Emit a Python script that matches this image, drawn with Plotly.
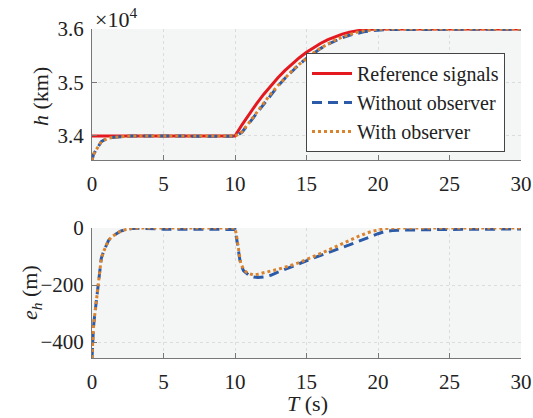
import plotly.graph_objects as go

# ---------------- data ----------------
REF_T = [0, 10, 10.5, 11, 11.5, 12, 12.5, 13, 13.5, 14, 14.5, 15, 15.5, 16, 16.5,
         17, 17.5, 18, 18.5, 19, 19.5, 20, 30]
REF_H = [34000, 34000, 34213, 34414, 34601, 34776, 34938, 35087, 35225, 35350, 35463,
         35565, 35655, 35734, 35801, 35858, 35905, 35942, 35969, 35987, 35997, 36000, 36000]

H_T = [0, 0.05, 0.1, 0.15, 0.25, 0.35, 0.45, 0.55, 0.65, 0.8, 0.95, 1.15, 1.4, 1.7,
       2.0, 2.4, 2.8, 3.5, 4, 10, 10.25, 10.5, 11, 11.5, 12, 12.5, 13, 13.5, 14, 14.5,
       15, 15.5, 16, 16.5, 17, 17.5, 18, 18.5, 19, 19.5, 20, 20.5, 21, 22, 25, 30]
H_WITHOUT = [33544, 33615, 33650, 33677, 33725, 33768, 33810, 33863, 33894, 33916,
             33935, 33956, 33970, 33981, 33989, 33995, 33998, 33999, 33998, 33995,
             34026, 34073, 34247, 34428, 34604, 34772, 34932, 35080, 35216, 35340,
             35451, 35550, 35638, 35715, 35781, 35837, 35883, 35919, 35947, 35967,
             35980, 35988, 35991, 35993, 35995, 35996]
H_WITH = [33544, 33615, 33650, 33677, 33725, 33768, 33810, 33863, 33894, 33916,
          33935, 33956, 33970, 33981, 33989, 33995, 33999, 34000, 34000, 34000,
          34030, 34078, 34254, 34438, 34618, 34787, 34942, 35087, 35220, 35342,
          35454, 35555, 35645, 35723, 35792, 35850, 35899, 35937, 35965, 35984,
          35993, 35998, 36000, 36000, 36000, 36000]

E_T = [0, 0.05, 0.1, 0.15, 0.25, 0.35, 0.45, 0.55, 0.65, 0.8, 0.95, 1.15, 1.4, 1.7,
       2.0, 2.4, 2.8, 3.5, 4, 5, 10, 10.1, 10.2, 10.3, 10.4, 10.6, 10.8, 11.0, 11.3,
       11.6, 12, 12.5, 13, 13.5, 14, 14.5, 15, 15.5, 16, 16.5, 17, 17.5, 18, 18.5, 19,
       19.5, 20, 20.5, 21, 22, 25, 30]
E_WITHOUT = [-456, -385, -350, -323, -275, -232, -190, -137, -106, -84, -65, -44, -30,
             -19, -11, -5, -2, -1, -2, -4, -5, -28, -63, -100, -128, -150, -160, -167,
             -172, -174, -172, -166, -155, -145, -134, -123, -114, -105, -96, -86, -77,
             -68, -59, -50, -40, -30, -20, -12, -9, -7, -5, -3.5]
E_WITH = [-456, -385, -350, -323, -275, -232, -190, -137, -106, -84, -65, -44, -30,
          -19, -11, -5, -1, 0, 0, 0, 0, -25, -60, -95, -124, -145, -155, -160, -165,
          -162, -158, -151, -145, -138, -130, -121, -111, -100, -89, -78, -66, -55,
          -43, -32, -22, -13, -7, -2, 0, 0, 0, 0]

X_TICKS = [0, 5, 10, 15, 20, 25, 30]
H_TICKS = [34000, 35000, 36000]
H_TICK_TEXT = ["3.4", "3.5", "3.6"]
E_TICKS = [-400, -200, 0]
E_TICK_TEXT = ["\u2212400", "\u2212200", "0"]

NAMES = ["Reference signals", "Without observer", "With observer"]

# ---------------- styling ----------------
RED = "#e3191f"
BLUE = "#2b5aa8"
ORANGE = "#d9832e"
FONT = "Liberation Serif"
W, H = 533, 418

fig = go.Figure()
fig.add_trace(go.Scatter(x=REF_T, y=REF_H, mode="lines", name=NAMES[0],
                         line=dict(color=RED, width=3), xaxis="x", yaxis="y"))
fig.add_trace(go.Scatter(x=H_T, y=H_WITHOUT, mode="lines", name=NAMES[1],
                         line=dict(color=BLUE, width=3, dash="10px,6px"), xaxis="x", yaxis="y"))
fig.add_trace(go.Scatter(x=H_T, y=H_WITH, mode="lines", name=NAMES[2],
                         line=dict(color=ORANGE, width=3, dash="dot"), xaxis="x", yaxis="y"))
fig.add_trace(go.Scatter(x=E_T, y=E_WITHOUT, mode="lines", showlegend=False,
                         line=dict(color=BLUE, width=3, dash="10px,6px"), xaxis="x2", yaxis="y2"))
fig.add_trace(go.Scatter(x=E_T, y=E_WITH, mode="lines", showlegend=False,
                         line=dict(color=ORANGE, width=3, dash="dot"), xaxis="x2", yaxis="y2"))

xdom = [92 / W, 521 / W]
common_x = dict(range=[0, 30], tickvals=X_TICKS, ticks="inside", ticklen=5,
                tickcolor="#777", showline=True, linecolor="#777", linewidth=1,
                showgrid=True, gridcolor="#dcdcdc", griddash="dot", gridwidth=1,
                zeroline=False, tickfont=dict(family=FONT, size=21, color="#222"),
                domain=xdom, mirror=False, ticklabelstandoff=5, automargin=False)
common_y = dict(ticks="inside", ticklen=5, tickcolor="#777", showline=True,
                linecolor="#777", linewidth=1, showgrid=True, gridcolor="#dcdcdc",
                griddash="dot", gridwidth=1, zeroline=False,
                tickfont=dict(family=FONT, size=21, color="#222"), ticklabelstandoff=3,
                automargin=False)

fig.update_layout(
    width=W, height=H, margin=dict(l=0, r=0, t=0, b=0, autoexpand=False),
    paper_bgcolor="white", plot_bgcolor="#f4f6f6",
    font=dict(family=FONT, color="#222"),
    xaxis=dict(**common_x, anchor="y"),
    yaxis=dict(**common_y, anchor="x", range=[33550, 36000], tickvals=H_TICKS,
               ticktext=H_TICK_TEXT, domain=[1 - 160 / H, 1 - 29 / H]),
    xaxis2=dict(**common_x, anchor="y2"),
    yaxis2=dict(**common_y, anchor="x2", range=[-456, 0], tickvals=E_TICKS,
                ticktext=E_TICK_TEXT, domain=[1 - 358 / H, 1 - 228 / H]),
    legend=dict(x=306 / W, y=1 - 53 / H, xanchor="left", yanchor="top",
                bgcolor="white", bordercolor="#444", borderwidth=1,
                font=dict(family=FONT, size=20, color="#222"),
                tracegroupgap=0, itemwidth=40),
    showlegend=True,
    annotations=[
        dict(text="\u00d710<sup>4</sup>", x=93 / W, y=1 - 2 / H, xref="paper", yref="paper",
             xanchor="left", yanchor="top", showarrow=False,
             font=dict(family=FONT, size=22, color="#222")),
        dict(text="<i>h</i> (km)", x=41 / W, y=1 - 97 / H, xref="paper", yref="paper",
             xanchor="center", yanchor="middle",
             textangle=-90, showarrow=False, font=dict(family=FONT, size=22, color="#222")),
        dict(text="<i>e</i><sub><i>h</i></sub> (m)", x=31 / W, y=1 - 293 / H,
             xref="paper", yref="paper", xanchor="center", yanchor="middle",
             textangle=-90, showarrow=False,
             font=dict(family=FONT, size=22, color="#222")),
        dict(text="<i>T</i> (s)", x=307 / W, y=1 - 403 / H, xref="paper", yref="paper",
             xanchor="center", yanchor="middle",
             showarrow=False, font=dict(family=FONT, size=22, color="#222")),
    ],
)

fig.write_html("out.html")
